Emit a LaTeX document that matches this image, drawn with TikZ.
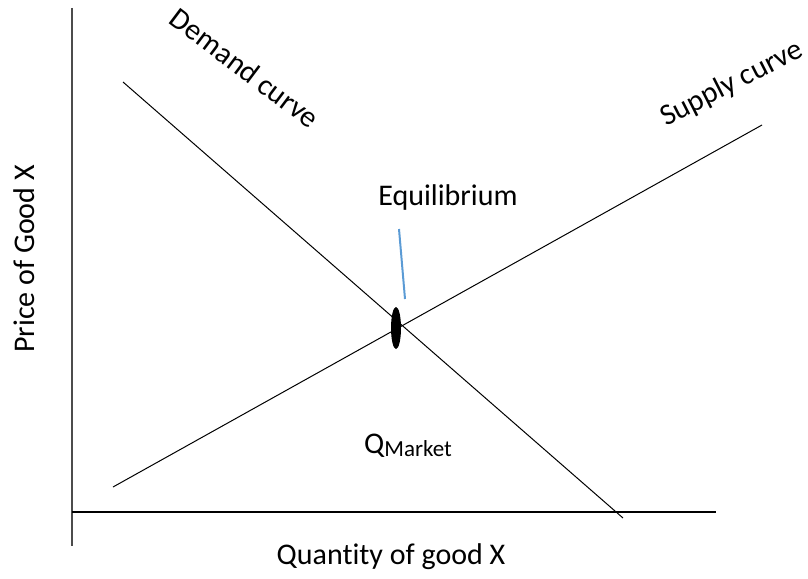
\documentclass[tikz,border=0pt]{standalone}
\usepackage{fontspec}
\setmainfont{Carlito}[Ligatures=NoCommon]
\usetikzlibrary{shapes.geometric}
\definecolor{officeblue}{HTML}{5B9BD5}
\begin{document}
\begin{tikzpicture}[x=1pt,y=-1pt,
  curve/.style={draw=black,line width=1pt},
  axis/.style={line width=1.3pt},
  lbl/.style={font=\fontsize{30}{32}\selectfont,inner sep=0pt}]
\useasboundingbox (0,0) rectangle (808,578);
% axes
\coordinate (ytop) at (72,8);
\coordinate (ybot) at (72,546);
\coordinate (xl) at (72,512);
\coordinate (xr) at (716,512);
\draw[axis,draw=black!70] (ytop) -- (ybot);
\draw[axis] (xl) -- (xr);
% curves
\coordinate (d1) at (123,82);
\coordinate (d2) at (623,518);
\coordinate (s1) at (113,487);
\coordinate (s2) at (762,125);
\draw[curve] (d1) -- (d2);
\draw[curve] (s1) -- (s2);
% equilibrium point
\node[ellipse,fill=black,minimum width=10pt,minimum height=42pt,inner sep=0pt] (eq) at (396,328) {};
\coordinate (b1) at (399,229);
\coordinate (b2) at (405,299);
\draw[officeblue,line width=2pt] (b1) -- (b2);
% labels
\node[lbl] (eqlbl) at (448,198) {Equilibrium};
\node[lbl,anchor=base west] (qm) at (364,453) {Q\raisebox{-0.1em}{\fontsize{23}{25}\selectfont Market}};
\node[lbl,rotate=90] (ylbl) at (24,259) {Price of Good X};
\node[lbl] (xlbl) at (391,557) {Quantity of good X};
\node[lbl,rotate=-37] (dlbl) at (245,68) {Demand curve};
\node[lbl,rotate=27] (slbl) at (732,84) {Supply curve};
\end{tikzpicture}
\end{document}
